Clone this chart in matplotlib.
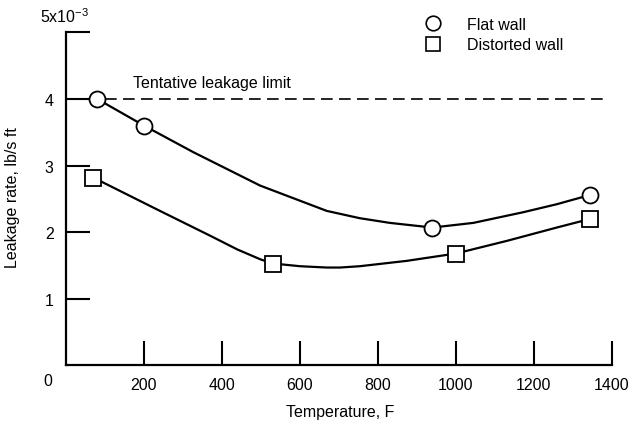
import numpy as np
import matplotlib
matplotlib.use('Agg')
import matplotlib.pyplot as plt
from matplotlib.lines import Line2D

plt.rcParams['font.family'] = ['Liberation Sans', 'DejaVu Sans']
plt.rcParams['mathtext.fontset'] = 'custom'
plt.rcParams['mathtext.rm'] = 'Liberation Sans'

# measured points (temperature F, leakage rate lb/s ft)
flat_x = [80, 200, 940, 1345]
flat_y = [4.0e-3, 3.6e-3, 2.07e-3, 2.56e-3]
dist_x = [70, 532, 1000, 1345]
dist_y = [2.82e-3, 1.53e-3, 1.68e-3, 2.20e-3]

# faired curves
flat_cx = [80, 200, 327, 498, 669, 754, 831, 940, 1045, 1173, 1259, 1345]
flat_cy = [4.0, 3.6, 3.2, 2.70, 2.32, 2.21, 2.14, 2.07, 2.14, 2.30, 2.42, 2.56]
dist_cx = [70, 241, 369, 440, 500, 532, 600, 669, 703, 754, 874, 1000, 1131, 1259, 1345]
dist_cy = [2.82, 2.32, 1.95, 1.74, 1.59, 1.53, 1.49, 1.47, 1.47, 1.49, 1.57, 1.68, 1.87, 2.07, 2.20]

limit_x = [100, 1380]
limit_y = [4.0e-3, 4.0e-3]

x_ticks = [200, 400, 600, 800, 1000, 1200, 1400]
y_ticks = [1e-3, 2e-3, 3e-3, 4e-3, 5e-3]
y_labels = ['1', '2', '3', '4', '']

fig = plt.figure(figsize=(6.31, 4.27), dpi=100)
ax = fig.add_axes([0.1046, 0.1417, 0.8648, 0.7803])

ax.plot(flat_cx, np.array(flat_cy) * 1e-3, color='black', lw=1.6, zorder=2)
ax.plot(dist_cx, np.array(dist_cy) * 1e-3, color='black', lw=1.6, zorder=2)
ax.plot(flat_x, flat_y, 'o', ms=11.5, mfc='white', mec='black', mew=1.3, zorder=3)
ax.plot(dist_x, dist_y, 's', ms=11, mfc='white', mec='black', mew=1.3, zorder=3)
ax.plot(limit_x, limit_y, color='black', lw=1.2, dashes=(7, 3.8), zorder=1)
ax.text(172, 4.25e-3, 'Tentative leakage limit', fontsize=11.5, va='center')

ax.set_xlim(0, 1400)
ax.set_ylim(0, 5e-3)
for s in ['top', 'right']:
    ax.spines[s].set_visible(False)
for s in ['left', 'bottom']:
    ax.spines[s].set_linewidth(1.6)

ax.set_xticks(x_ticks)
ax.set_yticks(y_ticks)
ax.set_yticklabels(y_labels)
ax.tick_params(direction='in', length=17, width=1.5, labelsize=11.5)
ax.tick_params(axis='x', pad=8)
ax.tick_params(axis='y', pad=9)

ax.annotate('0', xy=(0, 0), xytext=(-13, -11), textcoords='offset points',
            fontsize=11.5, ha='center', va='center', annotation_clip=False)
ax.annotate(r'5x10$^{\mathrm{-3}}$', xy=(0, 5e-3), xytext=(-1, 12), textcoords='offset points',
            fontsize=11.5, ha='center', va='center', annotation_clip=False)

ax.set_xlabel('Temperature, F', fontsize=11.5)
ax.set_ylabel('Leakage rate, lb/s ft', fontsize=11.5)
ax.xaxis.set_label_coords(0.502, -0.116)
ax.yaxis.set_label_coords(-0.084, 0.506)

handles = [Line2D([], [], ls='none', marker='o', ms=10.5, mfc='white', mec='black', mew=1.2),
           Line2D([], [], ls='none', marker='s', ms=10, mfc='white', mec='black', mew=1.2)]
fig.legend(handles, ['Flat wall', 'Distorted wall'], loc='upper left',
           bbox_to_anchor=(0.674, 0.959), frameon=False, fontsize=11.5,
           handlelength=1.0, handletextpad=1.6, labelspacing=0.35, borderaxespad=0, borderpad=0)

fig.savefig('out.png', dpi=100)
